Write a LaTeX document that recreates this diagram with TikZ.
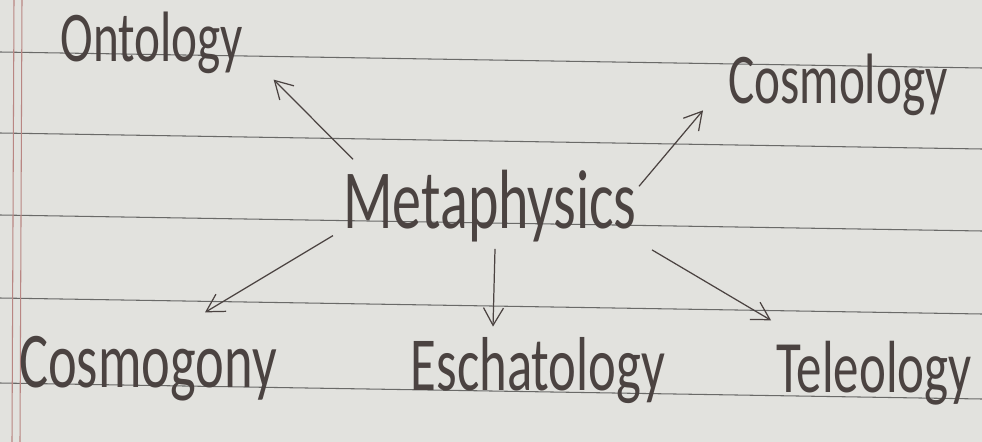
\documentclass[tikz,border=0pt]{standalone}
\usepackage{fontspec}
\setmainfont{Carlito}
\usetikzlibrary{arrows.meta}
\definecolor{paper}{HTML}{E2E2DE}
\definecolor{ruling}{HTML}{6A6A68}
\definecolor{margin}{HTML}{B98683}
\definecolor{ink}{HTML}{4B4341}
\newcommand{\tall}[1]{\scalebox{1}[1.45]{#1}}

\begin{document}
\begin{tikzpicture}[
    x=0.02cm, y=-0.02cm,
    term/.style={inner sep=0pt, anchor=base, text=ink, font=\fontsize{28}{30}\selectfont},
    arrow/.style={-{Straight Barb[length=3.5mm,width=4mm]}, ink, line width=0.7pt}
]
% sheet of ruled paper
\fill[paper] (0,0) rectangle (982,442);
\useasboundingbox (0,0) rectangle (982,442);
\foreach \y in {52,133,215,298,383}
    \draw[ruling, line width=0.6pt] (0,\y) -- (982,\y+16);
\draw[margin, line width=0.6pt] (14,0) -- (12,442);
\draw[margin, line width=0.6pt] (22,0) -- (20,442);

% terms
\node[term, font=\fontsize{33}{35}\selectfont] (meta) at (490,228) {\tall{Metaphysics}};
\node[term] (onto) at (152,62) {\tall{Ontology}};
\node[term] (cosmo) at (838,104) {\tall{Cosmology}};
\node[term, font=\fontsize{31}{33}\selectfont] (gony) at (148,387) {\tall{Cosmogony}};
\node[term, font=\fontsize{30}{32}\selectfont] (escha) at (538,390) {\tall{Eschatology}};
\node[term, font=\fontsize{29}{31}\selectfont] (teleo) at (874,392) {\tall{Teleology}};

% branches
\draw[arrow] ([shift={(10,-10)}]meta.north west) -- ([shift={(30,5)}]onto.south east);
\draw[arrow] ([shift={(2,17)}]meta.north east) -- ([shift={(-25,25)}]cosmo.west);
\draw[arrow] ([shift={(-10,30)}]meta.west) -- ([shift={(57,-23)}]gony.north);
\draw[arrow] ([shift={(5,7)}]meta.south) -- ([shift={(-45,-10)}]escha.north);
\draw[arrow] ([shift={(15,8)}]meta.south east) -- ([shift={(-5,-20)}]teleo.north west);
\end{tikzpicture}
\end{document}
